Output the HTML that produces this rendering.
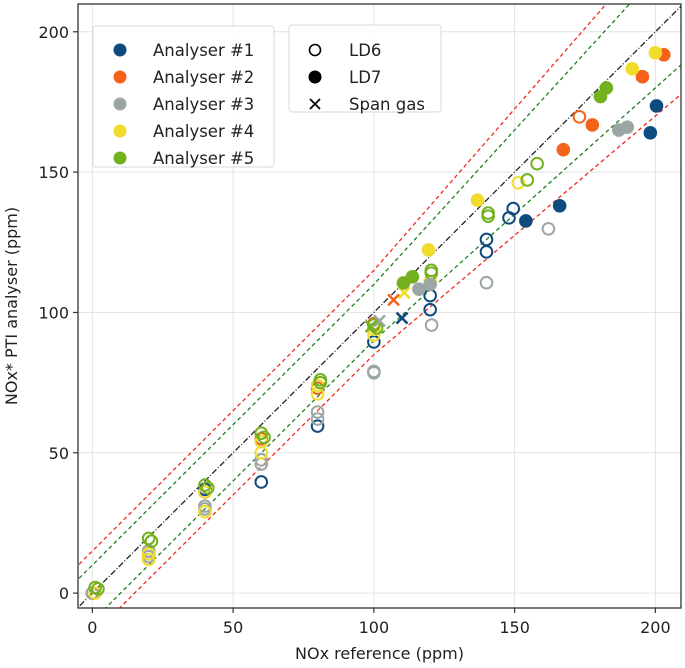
<!DOCTYPE html>
<html><head><meta charset="utf-8"><style>
html,body{margin:0;padding:0;background:#fff;}
svg{display:block;font-family:"DejaVu Sans","Liberation Sans",sans-serif;}
</style></head><body>
<svg id="chart" width="685" height="668" viewBox="0 0 685 668"></svg>
<script>
const xTicks=[0,50,100,150,200];
const yTicks=[0,50,100,150,200];
const seriesNames=["Analyser #1","Analyser #2","Analyser #3","Analyser #4","Analyser #5"];
const seriesColors=["#0e4c80","#f5631a","#9ba6a5","#f2dc2b","#74b11f"];
// LD6 open markers: [x,y]
const a1LD6=[[0,0],[20,14],[40,37],[60,39.6],[80,59.5],[100,89.5],[120,101],[120,106],[140,121.6],[140,126],[148,133.7],[149.5,137]];
const a2LD6=[[0,0],[20,15],[40,36],[60,55],[80,73],[100,96],[173,169.7]];
const a3LD6=[[0,0],[20,13],[20,15],[40,30],[40,31],[60,46],[60,47.5],[80,62],[80,64.5],[100,78.5],[100,79],[120.5,95.5],[140,110.6],[162,129.8]];
const a4LD6=[[1,0],[20,12],[20,14],[40,29],[40,36],[60,50],[60,54],[80,71],[80,74],[100,92],[100,94],[120,111],[151.3,146.2]];
const a5LD6=[[1,2],[2,1.5],[20,19.5],[21,18.5],[40,38.5],[41,37.5],[60,57],[61,55.5],[81,76],[81,75],[100,95.5],[101,94.5],[120.4,115],[120.4,114],[140.6,135.4],[140.6,134.3],[154.5,147.2],[158,153]];
// LD7 filled markers
const a1LD7=[[154,132.6],[166,138],[198.2,164],[200.4,173.6]];
const a2LD7=[[167.3,158],[177.6,166.8],[195.4,184],[203,191.8]];
const a3LD7=[[116,108.3],[120,110],[187,165],[190,166]];
const a4LD7=[[119.4,122.3],[136.8,140],[191.8,186.8],[200,192.5]];
const a5LD7=[[110.5,110.5],[113.7,112.7],[180.5,176.9],[182.6,180]];
// Span gas
const a1Span=[[110,98]];
const a2Span=[[107,104.5]];
const a3Span=[[102,97]];
const a4Span=[[110.8,107]];
const a5Span=[[99,95]];

const L=78,R=681,T=4,B=608;
const xMin=-5.1,xMax=209.1,yMin=-5.3,yMax=209.9;
const X=v=>L+(v-xMin)/(xMax-xMin)*(R-L);
const Y=v=>B-(v-yMin)/(yMax-yMin)*(B-T);
const NS="http://www.w3.org/2000/svg";
const svg=document.getElementById('chart');
function mk(tag,attrs,parent){const e=document.createElementNS(NS,tag);for(const k in attrs)e.setAttribute(k,attrs[k]);(parent||svg).appendChild(e);return e;}

const defs=mk('clipPath',{id:'clip'});mk('rect',{x:L,y:T,width:R-L,height:B-T},defs);
xTicks.forEach(t=>{const g=mk('line',{x1:X(t),x2:X(t),y1:T,y2:B,stroke:'#e3e3e3','stroke-width':1});

});
yTicks.forEach(t=>{const g=mk('line',{x1:L,x2:R,y1:Y(t),y2:Y(t),stroke:'#e3e3e3','stroke-width':1});

});

const plot=mk('g',{'clip-path':'url(#clip)'});


function boundLine(f,color,dash,name){let pts=[];for(let v=-10;v<=220;v+=1)pts.push(X(v).toFixed(1)+','+Y(f(v)).toFixed(1));
const p=mk('polyline',{points:pts.join(' '),fill:'none',stroke:color,'stroke-width':1.3,'stroke-dasharray':dash},plot);

}
boundLine(v=>Math.max(v+15,1.15*v),'#ee2a1e','4,3','red-upper-limit');
boundLine(v=>Math.min(v-15,0.85*v),'#ee2a1e','4,3','red-lower-limit');
boundLine(v=>Math.max(v+10,1.1*v),'#1e7f1e','4,3','green-upper-limit');
boundLine(v=>Math.min(v-10,0.9*v),'#1e7f1e','4,3','green-lower-limit');
boundLine(v=>v,'#222','6,2,1,2','identity-line');

const ld6=[a1LD6,a2LD6,a3LD6,a4LD6,a5LD6],ld7=[a1LD7,a2LD7,a3LD7,a4LD7,a5LD7],span=[a1Span,a2Span,a3Span,a4Span,a5Span];
for(let i=0;i<5;i++){
 ld6[i].forEach(d=>{const c=mk('circle',{cx:X(d[0]),cy:Y(d[1]),r:5.8,fill:'none',stroke:seriesColors[i],'stroke-width':2},plot);
 
 });
}
for(let i=0;i<5;i++){
 ld7[i].forEach(d=>{const c=mk('circle',{cx:X(d[0]),cy:Y(d[1]),r:6.8,fill:seriesColors[i]},plot);
 
 });
 span[i].forEach(d=>{const cx=X(d[0]),cy=Y(d[1]),s=5.5;
 const g=mk('path',{d:`M${cx-s},${cy-s}L${cx+s},${cy+s}M${cx-s},${cy+s}L${cx+s},${cy-s}`,stroke:seriesColors[i],'stroke-width':2.5,fill:'none'},plot);
 
 });
}
const fr=mk('rect',{x:L,y:T,width:R-L,height:B-T,fill:'none',stroke:'#333','stroke-width':1.3});


xTicks.forEach(t=>{mk('line',{x1:X(t),x2:X(t),y1:B,y2:B+5,stroke:'#333','stroke-width':1.2});
const tx=mk('text',{x:X(t),y:B+25,'text-anchor':'middle','font-size':16,fill:'#222'});tx.textContent=t;

});
yTicks.forEach(t=>{mk('line',{x1:L-5,x2:L,y1:Y(t),y2:Y(t),stroke:'#333','stroke-width':1.2});
const tx=mk('text',{x:L-9,y:Y(t)+6,'text-anchor':'end','font-size':16,fill:'#222'});tx.textContent=t;

});
const xl=mk('text',{x:(L+R)/2,y:659,'text-anchor':'middle','font-size':16,fill:'#222'});xl.textContent='NOx reference (ppm)';


const yl=mk('text',{x:0,y:0,'text-anchor':'middle','font-size':16,fill:'#222',transform:`translate(17,${(T+B)/2}) rotate(-90)`});yl.textContent='NOx* PTI analyser (ppm)';



const lg1=mk('g',{});


mk('rect',{x:93,y:26,width:181,height:141,rx:3,fill:'#fff','fill-opacity':0.85,stroke:'#d8d8d8'},lg1);
seriesNames.forEach((n,i)=>{const cy=50+i*27;
mk('circle',{cx:120,cy:cy,r:6.5,fill:seriesColors[i]},lg1);
const t=mk('text',{x:153,y:cy+6,'font-size':16.5,fill:'#222'},lg1);t.textContent=n;

});
const lg2=mk('g',{});


mk('rect',{x:289,y:25,width:152,height:87,rx:3,fill:'#fff','fill-opacity':0.85,stroke:'#d8d8d8'},lg2);
mk('circle',{cx:315,cy:50,r:5.5,fill:'none',stroke:'#000','stroke-width':1.6},lg2);
mk('circle',{cx:315,cy:77,r:6.5,fill:'#000'},lg2);
mk('path',{d:'M310,99L320,109M310,109L320,99',stroke:'#000','stroke-width':1.8},lg2);
[['LD6',50],['LD7',77],['Span gas',104]].forEach(a=>{const t=mk('text',{x:349,y:a[1]+6,'font-size':16.5,fill:'#222'},lg2);t.textContent=a[0];

});
</script>
</body></html>
